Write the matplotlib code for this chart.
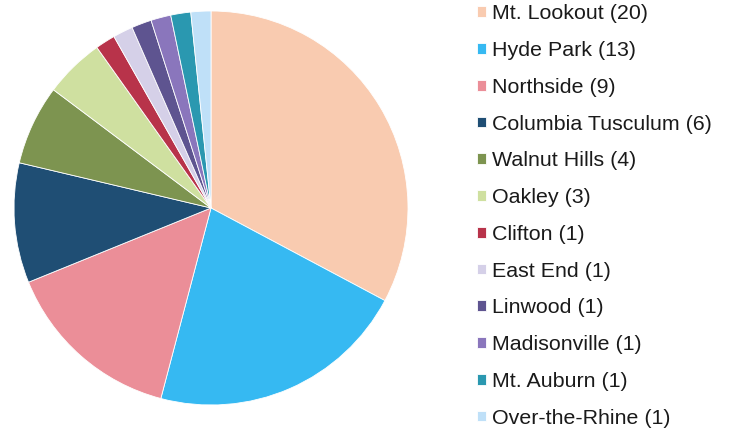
import matplotlib.pyplot as plt

# neighbourhood counts
names = ["Mt. Lookout", "Hyde Park", "Northside", "Columbia Tusculum",
         "Walnut Hills", "Oakley", "Clifton", "East End", "Linwood",
         "Madisonville", "Mt. Auburn", "Over-the-Rhine"]
counts = [20, 13, 9, 6, 4, 3, 1, 1, 1, 1, 1, 1]
colors = ["#F9CBB0", "#36B9F2", "#EB8E98", "#1F4E74", "#7D9450", "#CFE0A0",
          "#B8334A", "#D5D0E8", "#5E5490", "#8A76BC", "#2A98B0", "#BFE0F8"]

labels = ["%s (%d)" % (n, c) for n, c in zip(names, counts)]

plt.rcParams['font.family'] = ['Liberation Sans', 'DejaVu Sans']

fig = plt.figure(figsize=(7.31, 4.32), dpi=100)
cx, cy, r = 211, 208, 197
ax = fig.add_axes([(cx - r) / 731, (432 - cy - r) / 432, 2 * r / 731, 2 * r / 432])
wedges, _ = ax.pie(counts, colors=colors, startangle=90, counterclock=False,
                   wedgeprops=dict(edgecolor="white", linewidth=0.6))
ax.set_xlim(-1, 1)
ax.set_ylim(-1, 1)
ax.set_aspect("equal")

fig.legend(wedges, labels, loc="upper left", bbox_to_anchor=(477 / 731, 0.99),
           frameon=False, fontsize=15.4, borderpad=0, borderaxespad=0,
           handlelength=0.4, handleheight=0.4, handletextpad=0.3,
           labelspacing=0.83, labelcolor="#1a1a1a")

fig.savefig("out.png", dpi=100)
